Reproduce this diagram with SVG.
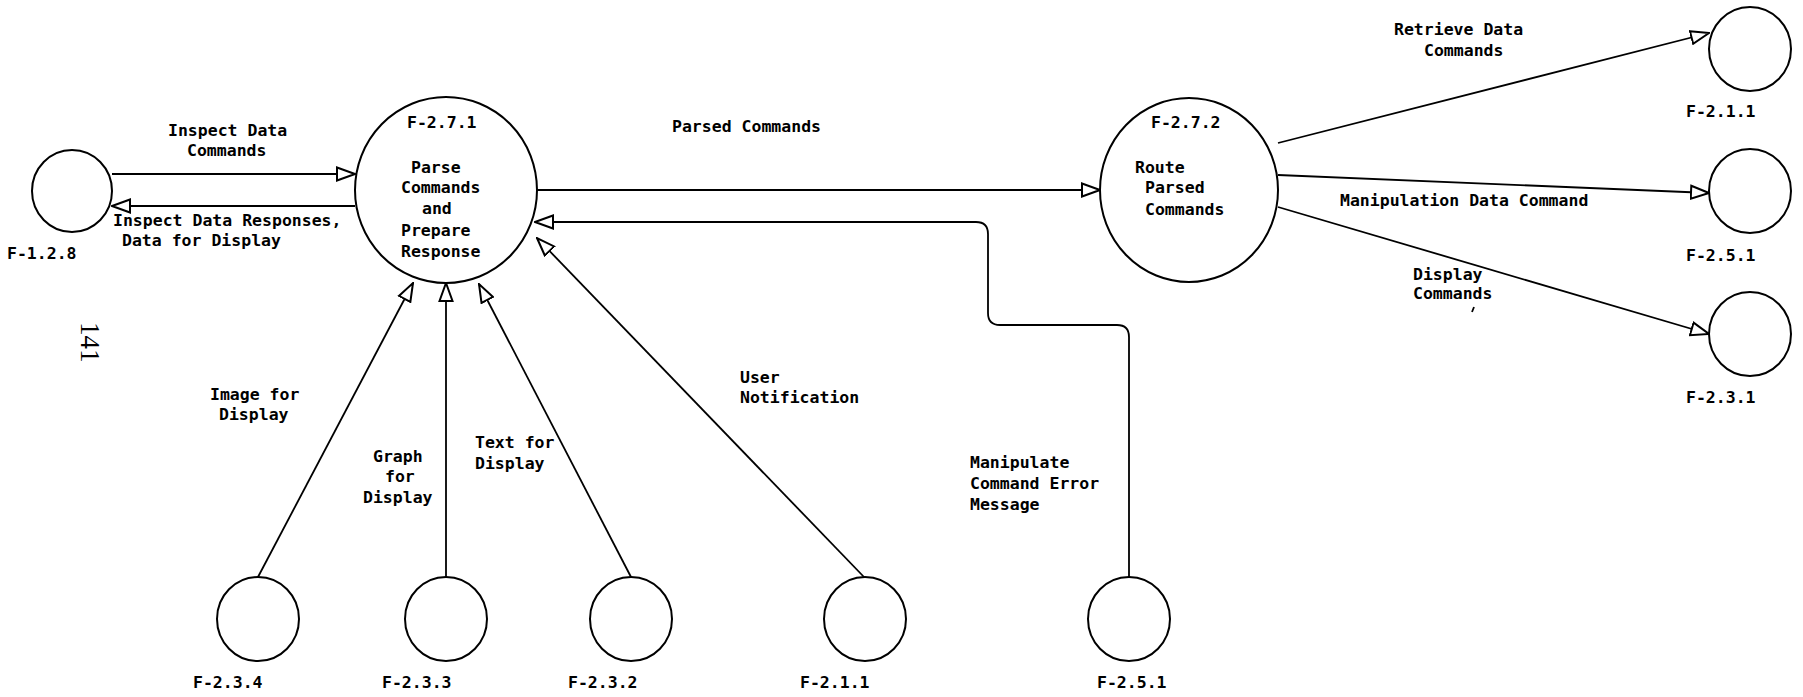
<svg xmlns="http://www.w3.org/2000/svg" width="1803" height="697" viewBox="0 0 1803 697">
<style>
.n{fill:none;stroke:#000;stroke-width:2}
.c{fill:none;stroke:#000;stroke-width:1.8}
.t{font-family:"DejaVu Sans Mono","Liberation Mono",monospace;font-weight:bold;font-size:16.5px;fill:#000}
.pg{font-family:"Liberation Serif","DejaVu Serif",serif;font-size:27px;fill:#000}
</style>
<defs>
<marker id="ah" viewBox="0 0 20 16" refX="19" refY="8" markerWidth="20" markerHeight="16" markerUnits="userSpaceOnUse" orient="auto">
<path d="M1,1.5 L19,8 L1,14.5 Z" fill="#fff" stroke="#000" stroke-width="2" stroke-linejoin="miter"/>
</marker>
</defs>
<rect width="1803" height="697" fill="#fff"/>

<g id="connectors">
<line class="c" x1="112" y1="174" x2="355" y2="174" marker-end="url(#ah)"/>
<line class="c" x1="355" y1="206" x2="112" y2="206" marker-end="url(#ah)"/>
<line class="c" x1="537" y1="190" x2="1100" y2="190" marker-end="url(#ah)"/>
<line class="c" x1="1278" y1="143" x2="1709" y2="33" marker-end="url(#ah)"/>
<line class="c" x1="1278" y1="175" x2="1709" y2="193" marker-end="url(#ah)"/>
<line class="c" x1="1278" y1="207" x2="1709" y2="334" marker-end="url(#ah)"/>
<line class="c" x1="258" y1="577" x2="413" y2="283" marker-end="url(#ah)"/>
<line class="c" x1="446" y1="577" x2="446" y2="283" marker-end="url(#ah)"/>
<line class="c" x1="631" y1="577" x2="479" y2="284" marker-end="url(#ah)"/>
<line class="c" x1="864" y1="577" x2="537" y2="238" marker-end="url(#ah)"/>
<path class="c" d="M1129,577 V337 Q1129,325 1117,325 H1000 Q988,325 988,313 V234 Q988,222 976,222 H535" marker-end="url(#ah)"/>
<line class="c" x1="1474" y1="307" x2="1472" y2="312"/>
</g>

<g id="page-number">
<text class="pg" x="81" y="322" transform="rotate(90 81 322)">141</text>
</g>

<g id="label-inspect-cmd">
<text class="t" x="168" y="136">Inspect Data</text>
<text class="t" x="187" y="156">Commands</text>
</g>
<g id="label-inspect-resp">
<text class="t" x="113" y="226">Inspect Data Responses,</text>
<text class="t" x="122" y="246">Data for Display</text>
</g>
<g id="label-parsed">
<text class="t" x="672" y="132">Parsed Commands</text>
</g>
<g id="label-retrieve">
<text class="t" x="1394" y="35">Retrieve Data</text>
<text class="t" x="1424" y="56">Commands</text>
</g>
<g id="label-manip">
<text class="t" x="1340" y="206">Manipulation Data Command</text>
</g>
<g id="label-display">
<text class="t" x="1413" y="280">Display</text>
<text class="t" x="1413" y="299">Commands</text>
</g>
<g id="label-image">
<text class="t" x="210" y="400">Image for</text>
<text class="t" x="219" y="420">Display</text>
</g>
<g id="label-graph">
<text class="t" x="373" y="462">Graph</text>
<text class="t" x="385" y="482">for</text>
<text class="t" x="363" y="503">Display</text>
</g>
<g id="label-text">
<text class="t" x="475" y="448">Text for</text>
<text class="t" x="475" y="469">Display</text>
</g>
<g id="label-user">
<text class="t" x="740" y="383">User</text>
<text class="t" x="740" y="403">Notification</text>
</g>
<g id="label-error">
<text class="t" x="970" y="468">Manipulate</text>
<text class="t" x="970" y="489">Command Error</text>
<text class="t" x="970" y="510">Message</text>
</g>

<g id="node-F-1.2.8">
<ellipse class="n" cx="72" cy="191" rx="40" ry="41"/>
<text class="t" x="7" y="259">F-1.2.8</text>
</g>
<g id="node-F-2.7.1">
<ellipse class="n" cx="446" cy="190" rx="91" ry="93"/>
<text class="t" x="407" y="128">F-2.7.1</text>
<text class="t" x="411" y="173">Parse</text>
<text class="t" x="401" y="193">Commands</text>
<text class="t" x="422" y="214">and</text>
<text class="t" x="401" y="236">Prepare</text>
<text class="t" x="401" y="257">Response</text>
</g>
<g id="node-F-2.7.2">
<ellipse class="n" cx="1189" cy="190" rx="89" ry="92"/>
<text class="t" x="1151" y="128">F-2.7.2</text>
<text class="t" x="1135" y="173">Route</text>
<text class="t" x="1145" y="193">Parsed</text>
<text class="t" x="1145" y="215">Commands</text>
</g>
<g id="node-F-2.1.1-top">
<ellipse class="n" cx="1750" cy="49" rx="41" ry="42"/>
<text class="t" x="1686" y="117">F-2.1.1</text>
</g>
<g id="node-F-2.5.1-right">
<ellipse class="n" cx="1750" cy="191" rx="41" ry="42"/>
<text class="t" x="1686" y="261">F-2.5.1</text>
</g>
<g id="node-F-2.3.1">
<ellipse class="n" cx="1750" cy="334" rx="41" ry="42"/>
<text class="t" x="1686" y="403">F-2.3.1</text>
</g>
<g id="node-F-2.3.4">
<ellipse class="n" cx="258" cy="619" rx="41" ry="42"/>
<text class="t" x="193" y="688">F-2.3.4</text>
</g>
<g id="node-F-2.3.3">
<ellipse class="n" cx="446" cy="619" rx="41" ry="42"/>
<text class="t" x="382" y="688">F-2.3.3</text>
</g>
<g id="node-F-2.3.2">
<ellipse class="n" cx="631" cy="619" rx="41" ry="42"/>
<text class="t" x="568" y="688">F-2.3.2</text>
</g>
<g id="node-F-2.1.1-bottom">
<ellipse class="n" cx="865" cy="619" rx="41" ry="42"/>
<text class="t" x="800" y="688">F-2.1.1</text>
</g>
<g id="node-F-2.5.1-bottom">
<ellipse class="n" cx="1129" cy="619" rx="41" ry="42"/>
<text class="t" x="1097" y="688">F-2.5.1</text>
</g>
</svg>
